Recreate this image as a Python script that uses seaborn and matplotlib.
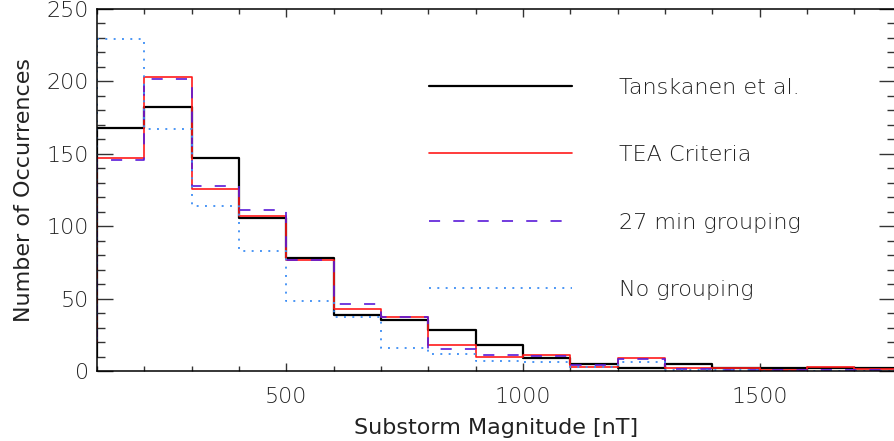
import numpy as np
import pandas as pd
import matplotlib
matplotlib.use("Agg")
import matplotlib.pyplot as plt
from matplotlib.ticker import MultipleLocator
import seaborn as sns

# histogram bins (left edges, width 100 nT)
bin_left = [0, 100, 200, 300, 400, 500, 600, 700, 800, 900,
            1000, 1100, 1200, 1300, 1400, 1500, 1600, 1700]
bin_edges = list(range(0, 1900, 100))

tanskanen = [10, 168, 182, 147, 106, 78, 39, 35, 28, 18, 9, 5, 2, 5, 2, 2, 2, 2]
tea = [20, 147, 203, 126, 107, 77, 43, 37, 18, 10, 11, 3, 9, 2, 2, 1, 2.5, 1.5]
group27 = [20, 146, 202, 128, 111, 76.5, 46, 37, 15, 11, 10.5, 4, 8, 1.5, 1, 1, 1, 0.5]
nogroup = [20, 229, 167, 114, 83, 48, 37, 16, 11.5, 7, 6, 2.5, 6, 0.5, 0.5, 0, 0, 0]

labels = ["Tanskanen et al.", "TEA Criteria", "27 min grouping", "No grouping"]

sns.set_style("ticks")
plt.rcParams['font.family'] = ['DejaVu Sans']
plt.rcParams['font.weight'] = 'light'
plt.rcParams['lines.scale_dashes'] = False

fig = plt.figure(figsize=(8.95, 4.41), dpi=100)
ax = fig.add_axes([97 / 895, 70 / 441, 798 / 895, 362 / 441])

styles = [
    (tanskanen, "black", "-", 1.6),
    (tea, "#ff1a1a", "-", 1.2),
    (group27, "#5a1ad8", (0, (8, 9.5)), 1.2),
    (nogroup, "#3d8ef5", (0, (1.4, 4.6)), 1.3),
]
for (vals, col, ls, lw), lab in zip(styles, labels):
    df = pd.DataFrame({"x": bin_left, "w": vals})
    sns.histplot(data=df, x="x", weights="w", bins=bin_edges, element="step",
                 fill=False, color=col, linestyle=ls, linewidth=lw, label=lab, ax=ax)

ax.set_xlim(100, 1786)
ax.set_ylim(0, 250)
ax.xaxis.set_major_locator(MultipleLocator(500))
ax.xaxis.set_minor_locator(MultipleLocator(100))
ax.yaxis.set_major_locator(MultipleLocator(50))
ax.yaxis.set_minor_locator(MultipleLocator(10))
txt = "#222222"
fs = 16
ax.tick_params(axis="both", which="both", direction="in", top=True, right=True,
               colors="#333333", labelcolor=txt, labelsize=fs, width=1)
ax.tick_params(axis="y", which="major", length=11.5)
ax.tick_params(axis="y", which="minor", length=5.8)
ax.tick_params(axis="x", which="major", length=6)
ax.tick_params(axis="x", which="minor", length=3.5)
ax.tick_params(axis="x", pad=11.5)
ax.tick_params(axis="y", pad=6)
for s in ax.spines.values():
    s.set_linewidth(1.1)
    s.set_color("black")

ax.set_xlabel("Substorm Magnitude [nT]", fontsize=fs, color=txt, labelpad=8)
ax.set_ylabel("Number of Occurrences", fontsize=fs, color=txt, labelpad=9)

leg = ax.legend(loc="upper left", bbox_to_anchor=(0.391, 0.865), frameon=False,
                fontsize=fs, handlelength=6.45, handletextpad=2.1, labelspacing=2.13,
                labelcolor=txt)

fig.savefig("out.png", dpi=100)
